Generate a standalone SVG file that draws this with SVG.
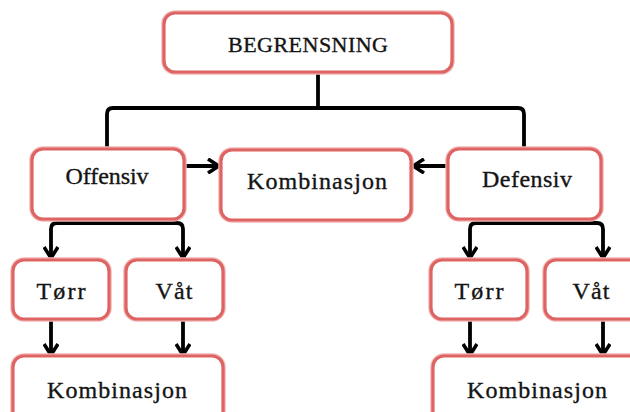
<svg xmlns="http://www.w3.org/2000/svg" width="630" height="412" viewBox="0 0 630 412">
<style>
.box{fill:#fff;stroke:#de6463;stroke-width:3.2}
.halo{fill:none;stroke:#f2b8b6;stroke-width:5.5}
.t{font-family:"Liberation Serif","Times New Roman",serif;font-size:24px;fill:#141414;stroke:#141414;stroke-width:0.35;text-anchor:middle}
.cap{font-size:22px}
.c{fill:none;stroke:#000;stroke-width:3.8;stroke-linejoin:round}
</style>
<defs>
<marker id="arr" viewBox="0 0 16 16" refX="14" refY="8" markerWidth="16" markerHeight="16" orient="auto" markerUnits="userSpaceOnUse">
<path d="M3,1 L14,8 L3,15" fill="none" stroke="#000" stroke-width="3.6"/>
</marker>
</defs>
<rect width="630" height="412" fill="#fff"/>
<g id="connectors">
<path class="c" d="M318,72 V108"/>
<path class="c" d="M107,149 V114 Q107,108 113,108 H518 Q524,108 524,114 V149"/>
<path class="c" d="M184,166 H219" marker-end="url(#arr)"/>
<path class="c" d="M448,166 H413" marker-end="url(#arr)"/>
<path class="c" d="M107,219 V223"/>
<path class="c" d="M107,223 H57 Q51,223 51,229 V258" marker-end="url(#arr)"/>
<path class="c" d="M107,223 H177 Q183,223 183,229 V258" marker-end="url(#arr)"/>
<path class="c" d="M524,219 V223"/>
<path class="c" d="M524,223 H476 Q470,223 470,229 V258" marker-end="url(#arr)"/>
<path class="c" d="M524,223 H597 Q603,223 603,229 V258" marker-end="url(#arr)"/>
<path class="c" d="M51,319 V355" marker-end="url(#arr)"/>
<path class="c" d="M183,319 V355" marker-end="url(#arr)"/>
<path class="c" d="M470,319 V355" marker-end="url(#arr)"/>
<path class="c" d="M603,319 V355" marker-end="url(#arr)"/>
</g>
<g id="begrensning">
<rect class="halo" x="164" y="13" width="288" height="59" rx="11"/>
<rect class="box" x="164" y="13" width="288" height="59" rx="11"/>
<text class="t cap" x="308" y="52" textLength="160">BEGRENSNING</text>
</g>
<g id="offensiv">
<rect class="halo" x="32" y="149" width="152" height="70" rx="11"/>
<rect class="box" x="32" y="149" width="152" height="70" rx="11"/>
<text class="t" x="107" y="184" textLength="83">Offensiv</text>
</g>
<g id="kombinasjon-midt">
<rect class="halo" x="221" y="150" width="190" height="70" rx="11"/>
<rect class="box" x="221" y="150" width="190" height="70" rx="11"/>
<text class="t" x="317" y="189" textLength="140">Kombinasjon</text>
</g>
<g id="defensiv">
<rect class="halo" x="448" y="149" width="153" height="70" rx="11"/>
<rect class="box" x="448" y="149" width="153" height="70" rx="11"/>
<text class="t" x="527" y="187" textLength="90">Defensiv</text>
</g>
<g id="torr-venstre">
<rect class="halo" x="13" y="260" width="96" height="59" rx="11"/>
<rect class="box" x="13" y="260" width="96" height="59" rx="11"/>
<text class="t" x="61" y="299" textLength="49">Tørr</text>
</g>
<g id="vat-venstre">
<rect class="halo" x="126" y="260" width="97" height="59" rx="11"/>
<rect class="box" x="126" y="260" width="97" height="59" rx="11"/>
<text class="t" x="174" y="299" textLength="37">Våt</text>
</g>
<g id="kombinasjon-venstre">
<rect class="halo" x="13" y="356" width="210" height="70" rx="11"/>
<rect class="box" x="13" y="356" width="210" height="70" rx="11"/>
<text class="t" x="117" y="398" textLength="140">Kombinasjon</text>
</g>
<g id="torr-hoyre">
<rect class="halo" x="431" y="260" width="96" height="59" rx="11"/>
<rect class="box" x="431" y="260" width="96" height="59" rx="11"/>
<text class="t" x="479" y="299" textLength="49">Tørr</text>
</g>
<g id="vat-hoyre">
<rect class="halo" x="545" y="260" width="97" height="59" rx="11"/>
<rect class="box" x="545" y="260" width="97" height="59" rx="11"/>
<text class="t" x="591" y="299" textLength="37">Våt</text>
</g>
<g id="kombinasjon-hoyre">
<rect class="halo" x="433" y="356" width="210" height="70" rx="11"/>
<rect class="box" x="433" y="356" width="210" height="70" rx="11"/>
<text class="t" x="537" y="398" textLength="140">Kombinasjon</text>
</g>
</svg>
